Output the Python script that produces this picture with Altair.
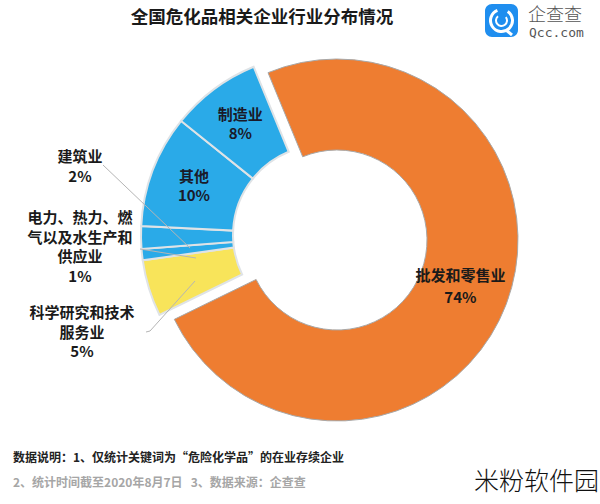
import math
import altair as alt
import pandas as pd

# ---- data ----
names = ["批发和零售业", "科学研究和技术服务业", "电力、热力、燃气以及水生产和供应业", "建筑业", "其他", "制造业"]
values = [74, 5, 1, 2, 10, 8]
colors = ["#EE7D31", "#F8E45A", "#2AAAE8", "#2AAAE8", "#2AAAE8", "#2AAAE8"]

title_text = "全国危化品相关企业行业分布情况"
note1 = "数据说明：1、仅统计关键词为“危险化学品”的在业存续企业"
note2 = "2、统计时间截至2020年8月7日\u00a0\u00a0\u00a03、数据来源：企查查"
watermark = "米粉软件园"

df = pd.DataFrame({"name": names, "value": values, "order": list(range(len(names)))})

FONT = "Noto Sans CJK SC"
start = 2 * math.pi - 0.391
theta_scale = alt.Scale(domain=[0, 100], range=[start, start + 2 * math.pi])
color_enc = alt.Color("name:N", scale=alt.Scale(domain=names, range=colors), legend=None)

base = alt.Chart(df).transform_stack(
    stack="value", groupby=[], as_=["v0", "v1"], sort=[alt.SortField("order", "ascending")]
)

OC = (337, 240)   # centre of main slice
GC = (323, 235)   # centre of exploded group

orange = base.transform_filter(alt.datum.order == 0).mark_arc(
    innerRadius=90, outerRadius=181, stroke="#a8a8a8", strokeWidth=1
).encode(
    theta=alt.Theta("v0:Q", scale=theta_scale, stack=None),
    theta2="v1:Q",
    color=color_enc,
    x=alt.value(OC[0]), y=alt.value(OC[1]),
)

others = base.transform_filter(alt.datum.order > 0).mark_arc(
    innerRadius=90, outerRadius=182, stroke="#dfe3e6", strokeWidth=2
).encode(
    theta=alt.Theta("v0:Q", scale=theta_scale, stack=None),
    theta2="v1:Q",
    color=color_enc,
    x=alt.value(GC[0]), y=alt.value(GC[1]),
)

lab = base.transform_calculate(
    mid="(datum.v0 + datum.v1) / 2",
    label="datum.name + '\\n' + datum.value + '%'",
)

inner_group = lab.transform_filter(
    alt.FieldOneOfPredicate(field="name", oneOf=["制造业", "其他"])
).mark_text(
    radius=138, font=FONT, fontSize=15, fontWeight="bold", color="#1a1a2a",
    lineBreak="\n", lineHeight=19, align="center", baseline="middle", dy=-9.5
).encode(
    theta=alt.Theta("mid:Q", scale=theta_scale, stack=None),
    text="label:N",
    x=alt.value(GC[0]), y=alt.value(GC[1]),
)

inner_main = lab.transform_filter(alt.datum.order == 0).mark_text(
    radius=132, font=FONT, fontSize=15, fontWeight="bold", color="#1a1a1a",
    lineBreak="\n", lineHeight=22, align="center", baseline="middle", dy=-11
).encode(
    theta=alt.Theta("mid:Q", scale=theta_scale, stack=None),
    text="label:N",
    x=alt.value(OC[0]), y=alt.value(OC[1]),
)

# outer labels (left side) — anchored at first line
outer_texts = [
    ("建筑业\n2%", 80, 157),
    ("电力、热力、燃\n气以及水生产和\n供应业\n1%", 80, 218),
    ("科学研究和技术\n服务业\n5%", 82, 313),
]
outer_layers = []
for t, xx, yy in outer_texts:
    outer_layers.append(
        alt.Chart(df).transform_filter(alt.datum.order == 0).mark_text(
            text=t, font=FONT, fontSize=15, fontWeight="bold", color="#1a1a1a",
            lineBreak="\n", lineHeight=19.5, align="center", baseline="middle"
        ).encode(x=alt.value(xx), y=alt.value(yy))
    )

# leader lines
leaders = [
    (103, 165, 190, 248),
    (140, 249, 196, 258),
    (146, 332, 150, 331),
    (150, 331, 195, 281),
]
leader_layers = [
    alt.Chart(df).transform_filter(alt.datum.order == 0).mark_rule(
        color="#b5b5b5", strokeWidth=1
    ).encode(x=alt.value(a), y=alt.value(b), x2=alt.value(c), y2=alt.value(d))
    for a, b, c, d in leaders
]

one = alt.Chart(df).transform_filter(alt.datum.order == 0)

title = one.mark_text(
    text=title_text, font=FONT, fontSize=17.5, fontWeight="bold", color="#1a1a1a",
    align="center", baseline="middle"
).encode(x=alt.value(262), y=alt.value(18))

n1 = one.mark_text(
    text=note1, font=FONT, fontSize=12, fontWeight="bold", color="#222222",
    align="left", baseline="middle"
).encode(x=alt.value(13), y=alt.value(458))

n2 = one.mark_text(
    text=note2, font=FONT, fontSize=12, fontWeight="bold", color="#a6a6a6",
    align="left", baseline="middle"
).encode(x=alt.value(13), y=alt.value(483))

wm = one.mark_text(
    text=watermark, font=FONT, fontSize=25, fontWeight=200, color="#111111",
    align="left", baseline="middle"
).encode(x=alt.value(474), y=alt.value(482))

# logo
logo_bg = one.mark_rect(color="#1F8EEF", cornerRadius=7).encode(
    x=alt.value(485), x2=alt.value(518), y=alt.value(4), y2=alt.value(37)
)
logo_ring = one.mark_arc(
    color="white", innerRadius=9.5, outerRadius=12.5, theta=0.6, theta2=5.9
).encode(x=alt.value(501.5), y=alt.value(20.5))
logo_ring2 = one.mark_arc(
    color="white", innerRadius=4.5, outerRadius=6.5, theta=0.9, theta2=5.6
).encode(x=alt.value(501.5), y=alt.value(20.5))
logo_tail = one.mark_rule(color="white", strokeWidth=3).encode(
    x=alt.value(506), y=alt.value(30), x2=alt.value(512), y2=alt.value(35)
)
logo_t1 = one.mark_text(
    text="企查查", font=FONT, fontSize=18, fontWeight=300, color="#555555",
    align="left", baseline="middle"
).encode(x=alt.value(528), y=alt.value(16))
logo_t2 = one.mark_text(
    text="Qcc.com", font="DejaVu Sans Mono", fontSize=13, color="#555555",
    align="left", baseline="middle"
).encode(x=alt.value(529), y=alt.value(33))

chart = alt.layer(
    orange, others, *leader_layers, inner_group, inner_main, *outer_layers,
    title, n1, n2, wm, logo_bg, logo_ring, logo_ring2, logo_tail, logo_t1, logo_t2
).properties(
    width=600, height=504, padding=0, autosize=alt.AutoSizeParams(type="none"),
    background="white"
).configure_view(stroke=None)

chart.save("out.html", embed_options={"renderer": "svg", "actions": False})
